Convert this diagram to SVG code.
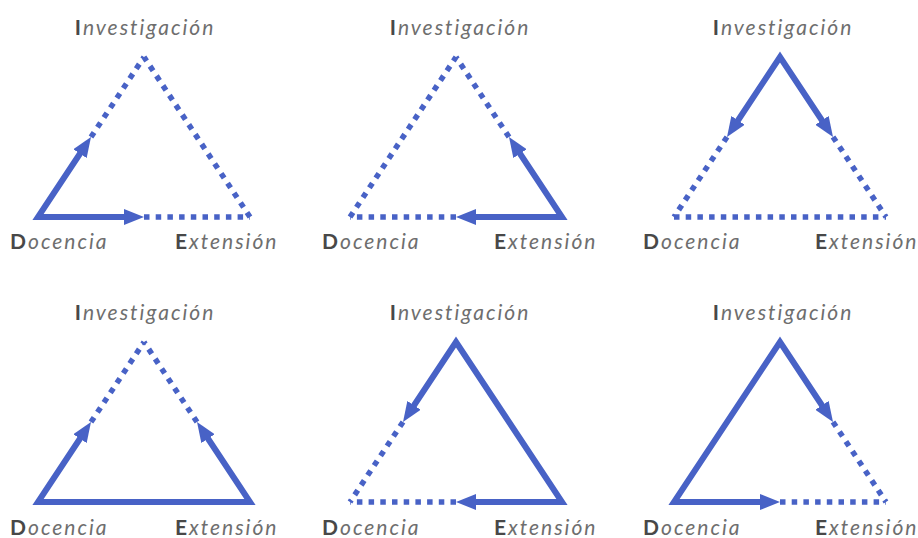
<svg xmlns="http://www.w3.org/2000/svg" width="918" height="538" viewBox="0 0 918 538">
<style>
  .lbl { font-family: Lato, "Liberation Sans", sans-serif; font-size: 21px; font-style: italic; fill: #6e6e6e; letter-spacing: 2px; }
  .ini { font-style: normal; font-weight: bold; fill: #484848; }
  .solid { fill: none; stroke: #4862C6; stroke-width: 6; stroke-linejoin: miter; stroke-miterlimit: 10; marker-end: url(#ah); }
  .both { marker-start: url(#ahs); }
  .dot { fill: none; stroke: #4862C6; stroke-width: 5.5; stroke-dasharray: 5.5 6.2; }
</style>
<defs>
  <marker id="ah" viewBox="0 0 20 16" refX="2" refY="8" markerWidth="20" markerHeight="16" markerUnits="userSpaceOnUse" orient="auto">
    <path d="M0,0 L20,8 L0,16 Z" fill="#4862C6"/>
  </marker>
  <marker id="ahs" viewBox="0 0 20 16" refX="2" refY="8" markerWidth="20" markerHeight="16" markerUnits="userSpaceOnUse" orient="auto-start-reverse">
    <path d="M0,0 L20,8 L0,16 Z" fill="#4862C6"/>
  </marker>
</defs>
<rect width="918" height="538" fill="#ffffff"/>

<!-- Panel 1 -->
<g id="panel1">
  <g id="p1-investigacion"><text class="lbl" x="145" y="35" text-anchor="middle"><tspan class="ini">I</tspan>nvestigación</text></g>
  <g id="p1-docencia"><text class="lbl" x="10" y="249"><tspan class="ini">D</tspan>ocencia</text></g>
  <g id="p1-extension"><text class="lbl" x="175" y="249"><tspan class="ini">E</tspan>xtensión</text></g>
  <g id="p1-connectors" transform="translate(38,57)">
    <path class="dot" d="M53,80 L106,0"/>
    <path class="dot" d="M212,160 L106,0"/>
    <path class="dot" d="M106,160 L212,160"/>
    <path class="solid both" d="M43.06,95.01 L0,160 L88,160"/>
  </g>
</g>

<!-- Panel 2 -->
<g id="panel2">
  <g id="p2-investigacion"><text class="lbl" x="460" y="35" text-anchor="middle"><tspan class="ini">I</tspan>nvestigación</text></g>
  <g id="p2-docencia"><text class="lbl" x="322" y="249"><tspan class="ini">D</tspan>ocencia</text></g>
  <g id="p2-extension"><text class="lbl" x="494" y="249"><tspan class="ini">E</tspan>xtensión</text></g>
  <g id="p2-connectors" transform="translate(350,57)">
    <path class="dot" d="M0,160 L106,0"/>
    <path class="dot" d="M159,80 L106,0"/>
    <path class="dot" d="M106,160 L0,160"/>
    <path class="solid both" d="M168.94,95.01 L212,160 L124,160"/>
  </g>
</g>

<!-- Panel 3 -->
<g id="panel3">
  <g id="p3-investigacion"><text class="lbl" x="783" y="35" text-anchor="middle"><tspan class="ini">I</tspan>nvestigación</text></g>
  <g id="p3-docencia"><text class="lbl" x="643" y="249"><tspan class="ini">D</tspan>ocencia</text></g>
  <g id="p3-extension"><text class="lbl" x="815" y="249"><tspan class="ini">E</tspan>xtensión</text></g>
  <g id="p3-connectors" transform="translate(674,57)">
    <path class="dot" d="M53,80 L0,160"/>
    <path class="dot" d="M159,80 L212,160"/>
    <path class="dot" d="M0,160 L212,160"/>
    <path class="solid both" d="M62.94,64.99 L106,0 L149.06,64.99"/>
  </g>
</g>

<!-- Panel 4 -->
<g id="panel4">
  <g id="p4-investigacion"><text class="lbl" x="145" y="320" text-anchor="middle"><tspan class="ini">I</tspan>nvestigación</text></g>
  <g id="p4-docencia"><text class="lbl" x="10" y="535"><tspan class="ini">D</tspan>ocencia</text></g>
  <g id="p4-extension"><text class="lbl" x="175" y="535"><tspan class="ini">E</tspan>xtensión</text></g>
  <g id="p4-connectors" transform="translate(38,342)">
    <path class="dot" d="M53,80 L106,0"/>
    <path class="dot" d="M159,80 L106,0"/>
    <path class="solid both" d="M43.06,95.01 L0,160 L212,160 L168.94,95.01"/>
  </g>
</g>

<!-- Panel 5 -->
<g id="panel5">
  <g id="p5-investigacion"><text class="lbl" x="460" y="320" text-anchor="middle"><tspan class="ini">I</tspan>nvestigación</text></g>
  <g id="p5-docencia"><text class="lbl" x="322" y="535"><tspan class="ini">D</tspan>ocencia</text></g>
  <g id="p5-extension"><text class="lbl" x="494" y="535"><tspan class="ini">E</tspan>xtensión</text></g>
  <g id="p5-connectors" transform="translate(350,342)">
    <path class="dot" d="M53,80 L0,160"/>
    <path class="dot" d="M106,160 L0,160"/>
    <path class="solid both" d="M62.94,64.99 L106,0 L212,160 L124,160"/>
  </g>
</g>

<!-- Panel 6 -->
<g id="panel6">
  <g id="p6-investigacion"><text class="lbl" x="783" y="320" text-anchor="middle"><tspan class="ini">I</tspan>nvestigación</text></g>
  <g id="p6-docencia"><text class="lbl" x="643" y="535"><tspan class="ini">D</tspan>ocencia</text></g>
  <g id="p6-extension"><text class="lbl" x="815" y="535"><tspan class="ini">E</tspan>xtensión</text></g>
  <g id="p6-connectors" transform="translate(674,342)">
    <path class="dot" d="M159,80 L212,160"/>
    <path class="dot" d="M106,160 L212,160"/>
    <path class="solid both" d="M149.06,64.99 L106,0 L0,160 L88,160"/>
  </g>
</g>
</svg>
